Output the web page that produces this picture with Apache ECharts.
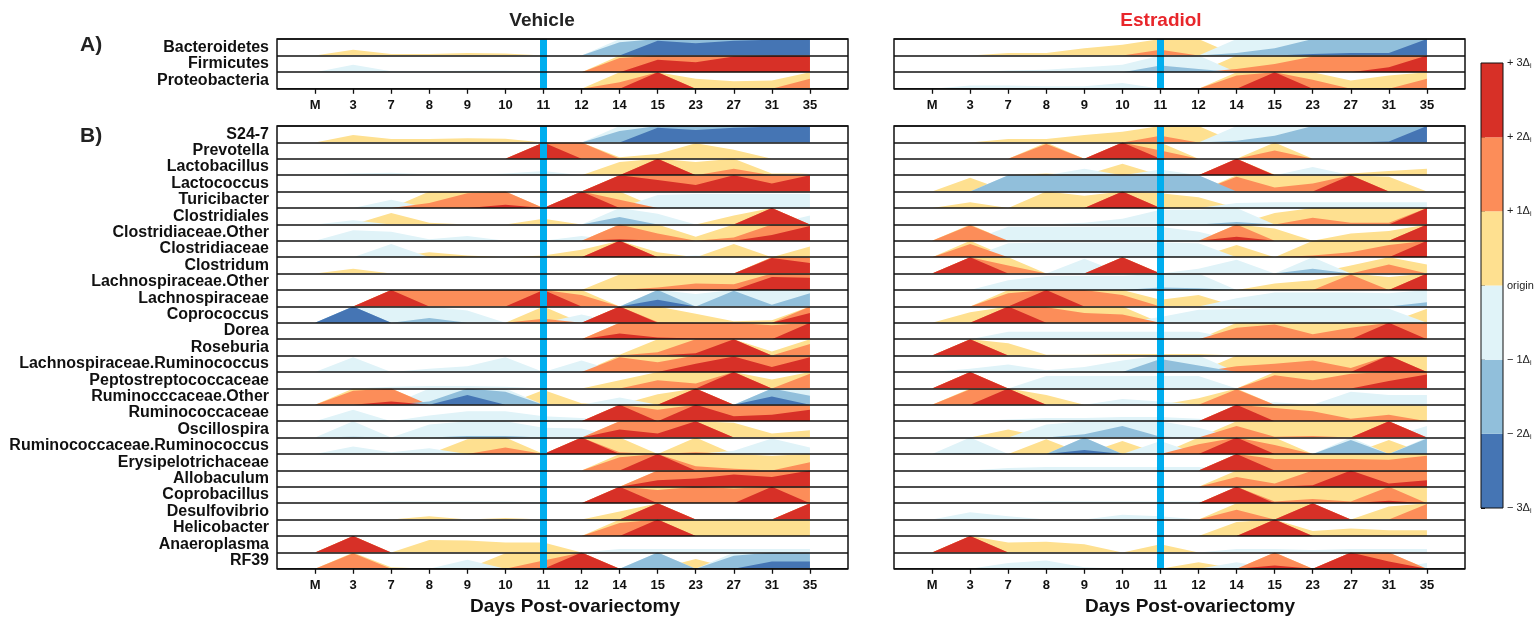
<!DOCTYPE html>
<html>
<head>
<meta charset="utf-8">
<script src="https://cdn.jsdelivr.net/npm/echarts@6/dist/echarts.min.js"></script>
<style>
html, body { margin: 0; padding: 0; background: #fff; }
#chart { width: 1538px; height: 620px; }
</style>
</head>
<body>
<div id="chart"></div>
<script>
// time points (days post-ovariectomy)
var days = ['M', '3', '7', '8', '9', '10', '11', '12', '14', '15', '23', '27', '31', '35'];

var phyla = ['Bacteroidetes', 'Firmicutes', 'Proteobacteria'];

var genera = ['S24-7', 'Prevotella', 'Lactobacillus', 'Lactococcus', 'Turicibacter', 'Clostridiales',
    'Clostridiaceae.Other', 'Clostridiaceae', 'Clostridum', 'Lachnospiraceae.Other', 'Lachnospiraceae',
    'Coprococcus', 'Dorea', 'Roseburia', 'Lachnospiraceae.Ruminococcus', 'Peptostreptococcaceae',
    'Ruminocccaceae.Other', 'Ruminococcaceae', 'Oscillospira', 'Ruminococcaceae.Ruminococcus',
    'Erysipelotrichaceae', 'Allobaculum', 'Coprobacillus', 'Desulfovibrio', 'Helicobacter',
    'Anaeroplasma', 'RF39'];

// values in units of delta_i (one row per taxon, one value per day)
var vehiclePhyla = [
    [0, 0.35, 0.1, 0.1, 0.15, 0.12, 0, 0, -1.8, -2.9, -2.75, -2.9, -2.95, -3],
    [0, -0.45, -0.05, -0.05, -0.08, -0.08, -0.03, 0, 1.85, 2.75, 2.6, 2.95, 3, 3],
    [0, 0, 0, 0, 0, 0, 0, 0, 1.4, 3, 0.6, 0.45, 0.5, 1.6]
];

var vehicleGenera = [
    [0, 0.45, 0.2, 0.2, 0.25, 0.22, 0, 0, -1.7, -2.9, -2.75, -2.9, -2.95, -3],
    [0, 0, 0, 0, 0, 0, 3, 2, 0.1, 0.3, 0.95, 0.55, 0, 0],
    [0, -0.1, -0.15, -0.05, 0, -0.1, -0.25, 0, 0.8, 3, 0.8, 1.4, 0.1, 0.1],
    [0, 0, 0, 0, 0, 0, 0, 0, 3, 2.7, 2.4, 3, 2.5, 3],
    [0, 0, -0.5, 1.3, 1.9, 2.2, 0, 3, 1.5, -0.8, -0.85, -0.85, -0.85, -0.85],
    [0, -0.25, 0.7, 0.1, 0, 0, 0.35, 0, -1.45, -0.65, 0, 0.55, 3, -0.55],
    [0, -0.65, -0.55, -0.1, -0.3, 0, 0, -0.3, 2.1, 1.45, 0.25, 1.2, 2.35, 2.9],
    [0, 0, -0.8, 0.3, 0.1, 0, 0.1, 0.45, 3, 0.3, -0.1, 0.8, 0, 0.65],
    [0, 0.3, 0, 0, 0, 0, 0, 0, 0, 0, 0, 0, 2.95, 2.65],
    [0, 0, 0, 0, 0, 0, 0, 0, 0.95, 1.15, 1.4, 1.35, 2.8, 2.75],
    [0, 0, 3, 2, 2, 2, 3, 1.7, 0, -2.4, -0.75, -1.95, -1.1, -1.8],
    [0, -3, -0.9, -1.3, -0.75, 0, 1.25, -0.5, 3, 1.05, 0.55, 0.1, 0.15, 2.6],
    [0, 0, 0, 0, 0, 0, 0, 0, 2.35, 2.1, 2.05, 2.05, 1.85, 3],
    [0, 0, 0, 0, 0, 0, 0, 0, 0.05, 1.2, 2.15, 3, 0.25, 1.7],
    [0, -0.9, 0, -0.2, -0.35, -0.9, 0, -0.7, 1.9, 1.6, 2.5, 2.95, 2.3, 2.9],
    [0, 0, -0.1, -0.15, -0.15, -0.1, 0, 0, 0.5, 1.5, 1.3, 3, 0.55, 1.9],
    [0, 1.85, 2.2, -1.2, -2.6, -1.8, 0.9, 0.1, -0.45, 0.65, 3, 0, -2.5, -1.55],
    [0, -0.7, 0, -0.35, -0.6, -0.6, -0.3, -0.2, 3, 1.7, 3, 2.3, 2.4, 2.7],
    [0, -1.05, 0, -0.8, -1.1, -1.1, -0.6, -0.55, 2.5, 2.25, 3, 0.9, 0.25, 0.45],
    [0, -0.45, -0.1, -0.35, 0.9, 1.4, 0, 3, 1.1, 0, 1.1, -0.2, -0.95, -0.4],
    [0, 0, 0, 0, 0, 0, 0, 0, 1.8, 3, 1.25, 1.1, 0.9, 1.5],
    [0, 0, 0, 0, 0, 0, 0, 0, 0, 2.4, 2.5, 2.75, 2.6, 3],
    [0, -0.05, -0.1, -0.1, -0.1, -0.1, -0.05, 0, 3, 1.8, 2, 1.9, 3, 2],
    [0, 0, 0, 0.2, 0, 0.1, 0, 0, 0.5, 3, 0, -0.05, 0, 3],
    [0, 0, 0, 0, 0, 0, 0, 0, 1.8, 3, 1, 1, 1, 1],
    [0, 3, 0, 0.75, 0.72, 0.6, 0.6, 0, -0.2, -0.2, -0.2, -0.2, -0.2, -0.2],
    [0, 1.95, 0.1, 0, -0.55, 0.95, 1.5, 3, 0, -2, 0.6, -1.8, -2.45, -2.45]
];

var estradiolPhyla = [
    [0, 0, 0.15, 0.15, 0.45, 0.65, 1.35, 1.0, -1.15, -1.45, -2.1, -2.15, -2.15, -3],
    [0, 0, -0.1, -0.15, -0.3, -0.45, -1.4, -1.2, 1.2, 1.5, 1.95, 2.0, 2.3, 3],
    [0, -0.2, -0.2, -0.15, -0.15, -0.35, 0, 0, 1.8, 3, 1.55, 0.5, 0.8, 1.6]
];

var estradiolGenera = [
    [0, 0, 0.2, 0.2, 0.45, 0.65, 1.4, 1.0, -1.1, -1.4, -2.0, -2.0, -2.05, -3],
    [0, 0, 0, 1.9, 0, 3, 1.5, 0, 0, 1.5, 0, 0, 0, 0],
    [0, 0, 0, 0.1, -0.4, 0.7, -0.35, 0, 3, 0.05, -0.5, 0.1, 0.25, 0.4],
    [0, 0.85, -2, -2, -2, -2, -2, -2, 1.9, 1.25, 1.5, 3, 0.9, 0],
    [0, 0.35, 0, 1.0, 0.75, 3, 0.9, 0.65, -0.3, -0.35, -0.35, -0.35, -0.35, -0.35],
    [0, 0, 0, 0, -0.1, -0.35, -0.9, -0.9, -1.15, 0.7, 1.4, 1.1, 1.1, 3],
    [0, 1.95, -0.85, -0.85, -0.85, -0.85, -0.85, -0.55, 2.25, 0.75, 0, 0.45, 0.6, 3],
    [0, 1.8, -0.85, -0.9, -0.9, -0.9, -0.9, -0.85, 0.75, 0, 1.1, 1.3, 1.75, 3],
    [0, 3, 1.5, 0, -0.9, 3, 0, -0.3, -0.85, 0, -1.3, 0.5, 1.55, 0.55],
    [0, 0, -0.6, -0.85, -0.85, -0.85, -1.15, -1.1, 0, 0.4, 0.6, 1.95, 0.8, 3],
    [0, 0, 1.8, 3, 2.0, 1.7, 0.4, 0.7, -0.5, -0.85, -0.85, -0.85, -0.8, -1.25],
    [0, 0.65, 3, 1.95, 1.6, 1.5, -0.35, -0.8, -0.85, -0.9, -0.9, -0.9, -0.85, 0.85],
    [0, 0, -0.45, -0.45, -0.45, -0.45, -0.45, -0.45, 1.7, 1.9, 1.3, 1.7, 3, 1.95],
    [0, 3, 0.75, 0.05, 0.05, 0.1, 0.1, 0.1, 0, 0, 0, 0, 0, 0],
    [0, -0.2, -0.45, -0.1, -0.3, -0.7, -1.8, -1.4, 1.35, 1.5, 1.7, 1.25, 3, 1.0],
    [0, 3, 0, -0.75, -0.75, -0.75, -0.75, -0.75, 0, 1.8, 1.5, 1.9, 2.45, 2.85],
    [0, 1.95, 3, 0.6, 0, -0.35, -0.2, 0.4, 1.95, -0.15, 0.05, -0.8, -0.6, -0.6],
    [0, 0, -0.1, -0.2, -0.2, -0.25, -0.25, -0.15, 3, 1.8, 1.6, 1.15, 1.4, 0.95],
    [0, 0, 0.5, -0.8, -1.2, -1.7, -1.05, -0.6, 1.7, 1.05, 1.1, 1.0, 3, -0.7],
    [0, -1.05, 0, 0.9, -2.25, 0.8, -0.8, 1.6, 3, 1.55, 0, -1.85, 0.85, -1.95],
    [0, 0, -0.15, -0.2, -0.2, -0.2, -0.2, -0.2, 3, 1.7, 1.7, 1.7, 1.65, 1.9],
    [0, 0, -0.05, -0.05, -0.05, -0.05, -0.05, -0.05, 1.6, 1.2, 2.1, 3, 2.2, 2.4],
    [0, 0, -0.05, -0.1, -0.1, -0.1, -0.1, -0.1, 3, 1.1, 1.25, 1.1, 2.15, 1.0],
    [0, -0.45, -0.2, 0, 0, -0.3, -0.2, 0, 1.6, 1.0, 3, 0, 0.8, 1.95],
    [0, 0, 0, 0, 0, 0, 0, 0, 0.85, 3, 0.3, 0.45, 0.35, 0.35],
    [0, 3, 0.6, 0.65, 0.5, 0, 0.5, 0, -0.2, -0.2, -0.15, -0.2, -0.2, -0.2],
    [0, 0, -0.35, -0.5, -0.1, 0, 0, 0.4, -0.4, 2.2, 0, 3, 2.45, -0.35]
];

// colour key labels, bottom to top
var keyLabels = ['\u2212 3\u0394{s|i}', '\u2212 2\u0394{s|i}', '\u2212 1\u0394{s|i}', 'origin',
    '+ 1\u0394{s|i}', '+ 2\u0394{s|i}', '+ 3\u0394{s|i}'];

var posColors = ['#fee090', '#fc8d59', '#d73027'];
var negColors = ['#e0f3f8', '#91bfdb', '#4575b4'];

var chart = echarts.init(document.getElementById('chart'));

var grids = [], xAxes = [], yAxes = [], series = [];
var panelLeft = [277, 894];
var panelWidth = 571;
var treatment = 11;   // day of estradiol / vehicle start
var tickIdx = days.map(function(d, i) { return i; });
var labelFont = 'Liberation Sans';

var sections = [
    { panel: 0, names: phyla, rows: vehiclePhyla, top: 39, rowH: 16.6 },
    { panel: 0, names: genera, rows: vehicleGenera, top: 126, rowH: 16.4 },
    { panel: 1, names: phyla, rows: estradiolPhyla, top: 39, rowH: 16.6 },
    { panel: 1, names: genera, rows: estradiolGenera, top: 126, rowH: 16.4 }
];

function clamp(v) {
    return Math.max(0, Math.min(1, v));
}

sections.forEach(function(sec) {
    // one small grid per row, horizon bands drawn as area series
    sec.rows.forEach(function(vals, r) {
        var gi = grids.length;
        grids.push({
            left: panelLeft[sec.panel], width: panelWidth,
            top: sec.top + r * sec.rowH, height: sec.rowH,
            show: false
        });
        xAxes.push({ gridIndex: gi, type: 'value', min: -1, max: 14, show: false });
        yAxes.push({ gridIndex: gi, type: 'value', min: 0, max: 1, show: false });

        // drawing order: least extreme band first
        [0, 1, 2].forEach(function(k) {
            [1, -1].forEach(function(sign) {
                var data = vals.map(function(v, i) { return [i, clamp(sign * v - k)]; });
                var used = data.some(function(d) { return d[1] > 0; });
                if (!used) return;
                series.push({
                    type: 'line',
                    xAxisIndex: gi,
                    yAxisIndex: gi,
                    data: data,
                    symbol: 'none',
                    silent: true,
                    z: 2,
                    lineStyle: { width: 0 },
                    areaStyle: { color: sign > 0 ? posColors[k] : negColors[k], opacity: 1 }
                });
            });
        });
    });

    // frame, row lines, ticks, row names and the treatment line
    var oi = grids.length;
    grids.push({
        left: panelLeft[sec.panel], width: panelWidth,
        top: sec.top, height: sec.rowH * sec.rows.length,
        show: true, backgroundColor: 'transparent',
        borderColor: '#111', borderWidth: 1.5, z: 10
    });
    xAxes.push({
        gridIndex: oi, type: 'value', min: -1, max: 14, z: 10,
        axisLine: { show: false },
        splitLine: { show: false },
        axisTick: { show: true, customValues: tickIdx, length: 5, lineStyle: { color: '#111', width: 1.3 } },
        axisLabel: {
            show: true, customValues: tickIdx, margin: 10,
            formatter: function(v) { return days[v]; },
            color: '#111', fontWeight: 'bold', fontSize: 13,
            fontFamily: '"Liberation Sans Narrow", "Liberation Sans", Arial'
        }
    });
    yAxes.push({
        gridIndex: oi, type: 'category', data: sec.names, inverse: true, z: 10,
        axisLine: { show: false },
        axisTick: { show: false, interval: 0 },
        splitLine: { show: true, interval: 0, lineStyle: { color: '#111', width: 1.5 } },
        axisLabel: {
            show: sec.panel === 0, interval: 0, margin: 8, color: '#111',
            fontWeight: 'bold', fontSize: 16, fontFamily: labelFont
        }
    });
    series.push({
        type: 'line', xAxisIndex: oi, yAxisIndex: oi, data: [], z: 20, silent: true,
        markLine: {
            silent: true, symbol: 'none', animation: false,
            label: { show: false },
            lineStyle: { color: '#00aeef', width: 7, type: 'solid', opacity: 1 },
            data: [{ xAxis: days.indexOf(String(treatment)) }]
        }
    });
});

// colour key
var ki = grids.length;
var keyColors = negColors.slice().reverse().concat(posColors);
grids.push({ left: 1481, top: 63, width: 22, height: 445, show: true, backgroundColor: 'transparent',
    borderColor: '#111', borderWidth: 1, z: 10 });
xAxes.push({ gridIndex: ki, type: 'value', min: 0, max: 1, show: false });
yAxes.push({
    gridIndex: ki, type: 'value', min: -3, max: 3, interval: 1, position: 'right',
    axisLine: { show: false },
    splitLine: { show: false },
    axisTick: { show: true, length: 4, lineStyle: { color: '#111' } },
    axisLabel: {
        margin: 4, color: '#222', fontSize: 11, fontFamily: labelFont,
        formatter: function(v) { return keyLabels[v + 3]; },
        rich: { s: { fontSize: 7, color: '#222', fontFamily: labelFont, padding: [6, 0, 0, 0] } }
    }
});
series.push({
    type: 'line', xAxisIndex: ki, yAxisIndex: ki, data: [], silent: true,
    markArea: {
        silent: true,
        data: keyColors.map(function(c, i) {
            return [{ yAxis: i - 3, itemStyle: { color: c, opacity: 1 } }, { yAxis: i - 2 }];
        })
    }
});

var option = {
    backgroundColor: '#fff',
    animation: false,
    grid: grids,
    xAxis: xAxes,
    yAxis: yAxes,
    series: series,
    graphic: [
        { type: 'text', x: 542, y: 21, style: { text: 'Vehicle', fill: '#222', font: 'bold 19px "Liberation Sans"', textAlign: 'center', textVerticalAlign: 'middle' } },
        { type: 'text', x: 1161, y: 21, style: { text: 'Estradiol', fill: '#e8262b', font: 'bold 19px "Liberation Sans"', textAlign: 'center', textVerticalAlign: 'middle' } },
        { type: 'text', x: 80, y: 45, style: { text: 'A)', fill: '#222', font: 'bold 21px "Liberation Sans"', textVerticalAlign: 'middle' } },
        { type: 'text', x: 80, y: 136, style: { text: 'B)', fill: '#222', font: 'bold 21px "Liberation Sans"', textVerticalAlign: 'middle' } },
        { type: 'text', x: 575, y: 607, style: { text: 'Days Post-ovariectomy', fill: '#111', font: 'bold 19px "Liberation Sans"', textAlign: 'center', textVerticalAlign: 'middle' } },
        { type: 'text', x: 1190, y: 607, style: { text: 'Days Post-ovariectomy', fill: '#111', font: 'bold 19px "Liberation Sans"', textAlign: 'center', textVerticalAlign: 'middle' } }
    ]
};

chart.setOption(option);
</script>
</body>
</html>
